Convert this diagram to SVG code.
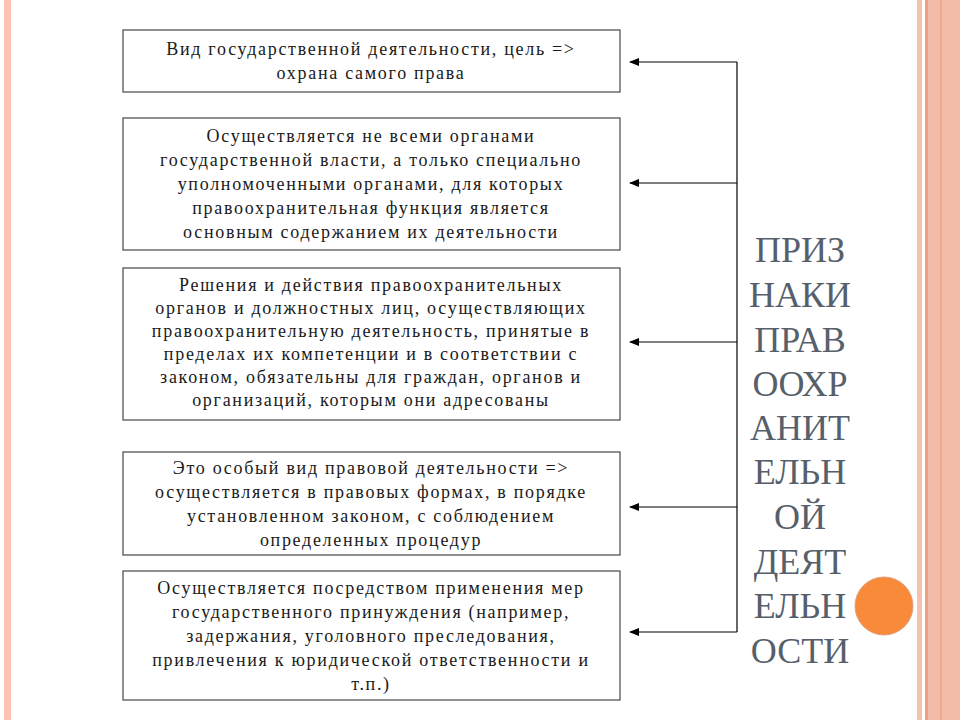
<svg xmlns="http://www.w3.org/2000/svg" width="960" height="720" viewBox="0 0 960 720">
<style>
.box{fill:#fff;stroke:#555;stroke-width:1.3}
.t{font-family:"Liberation Serif","Times New Roman","DejaVu Serif",serif;font-size:18px;fill:#1a1a1a;text-anchor:middle;letter-spacing:1.7px}
.h{font-family:"Liberation Serif","Times New Roman","DejaVu Serif",serif;font-size:36px;fill:#56606b;text-anchor:middle}
.c{stroke:#000;stroke-width:1.2;fill:none}
</style>
<defs><marker id="a" markerWidth="10" markerHeight="8" refX="9" refY="4" orient="auto" markerUnits="userSpaceOnUse"><path d="M0,0 L10,4 L0,8 z" fill="#000"/></marker></defs>
<rect x="0" y="0" width="960" height="720" fill="#fff"/>
<rect x="4" y="0" width="7" height="720" fill="#fcc4b2"/>
<rect x="917" y="0" width="5" height="720" fill="#f6c2ae"/>
<rect x="925" y="0" width="35" height="720" fill="#f2bca9"/>
<rect x="925" y="0" width="3" height="720" fill="#f0a07e"/>
<rect x="940" y="0" width="2" height="720" fill="#eea88e"/>
<g id="n1"><rect class="box" x="123" y="30" width="497" height="62"/>
<text class="t" x="371" y="55">Вид государственной деятельности, цель =&gt;</text>
<text class="t" x="371" y="79">охрана самого права</text></g>
<g id="n2"><rect class="box" x="123" y="118" width="497" height="132"/>
<text class="t" x="371" y="142">Осуществляется не всеми органами</text>
<text class="t" x="371" y="166">государственной власти, а только специально</text>
<text class="t" x="371" y="190">уполномоченными органами, для которых</text>
<text class="t" x="371" y="214">правоохранительная функция является</text>
<text class="t" x="371" y="238">основным содержанием их деятельности</text></g>
<g id="n3"><rect class="box" x="123" y="268" width="497" height="152"/>
<text class="t" x="371" y="291">Решения и действия правоохранительных</text>
<text class="t" x="371" y="314">органов и должностных лиц, осуществляющих</text>
<text class="t" x="371" y="337">правоохранительную деятельность, принятые в</text>
<text class="t" x="371" y="360">пределах их компетенции и в соответствии с</text>
<text class="t" x="371" y="383">законом, обязательны для граждан, органов и</text>
<text class="t" x="371" y="406">организаций, которым они адресованы</text></g>
<g id="n4"><rect class="box" x="123" y="452" width="497" height="103"/>
<text class="t" x="371" y="474">Это особый вид правовой деятельности =&gt;</text>
<text class="t" x="371" y="498">осуществляется в правовых формах, в порядке</text>
<text class="t" x="371" y="522">установленном законом, с соблюдением</text>
<text class="t" x="371" y="546">определенных процедур</text></g>
<g id="n5"><rect class="box" x="123" y="571" width="497" height="129"/>
<text class="t" x="371" y="594">Осуществляется посредством применения мер</text>
<text class="t" x="371" y="618">государственного принуждения (например,</text>
<text class="t" x="371" y="642">задержания, уголовного преследования,</text>
<text class="t" x="371" y="666">привлечения к юридической ответственности и</text>
<text class="t" x="371" y="690">т.п.)</text></g>
<g id="connectors">
<path class="c" d="M737,62 V632"/>
<path class="c" d="M737,62 H630" marker-end="url(#a)"/>
<path class="c" d="M737,183 H630" marker-end="url(#a)"/>
<path class="c" d="M737,342 H630" marker-end="url(#a)"/>
<path class="c" d="M737,507 H630" marker-end="url(#a)"/>
<path class="c" d="M737,632 H630" marker-end="url(#a)"/>
</g>
<g id="title">
<text class="h" x="800" y="262">ПРИЗ</text>
<text class="h" x="800" y="307">НАКИ</text>
<text class="h" x="800" y="352">ПРАВ</text>
<text class="h" x="800" y="396">ООХР</text>
<text class="h" x="800" y="440">АНИТ</text>
<text class="h" x="800" y="484">ЕЛЬН</text>
<text class="h" x="800" y="529">ОЙ</text>
<text class="h" x="800" y="574">ДЕЯТ</text>
<text class="h" x="800" y="618">ЕЛЬН</text>
<text class="h" x="800" y="663">ОСТИ</text>
</g>
<ellipse cx="884" cy="606" rx="29" ry="29" fill="#f98a3a" stroke="#e0a080" stroke-width="1"/>
</svg>
